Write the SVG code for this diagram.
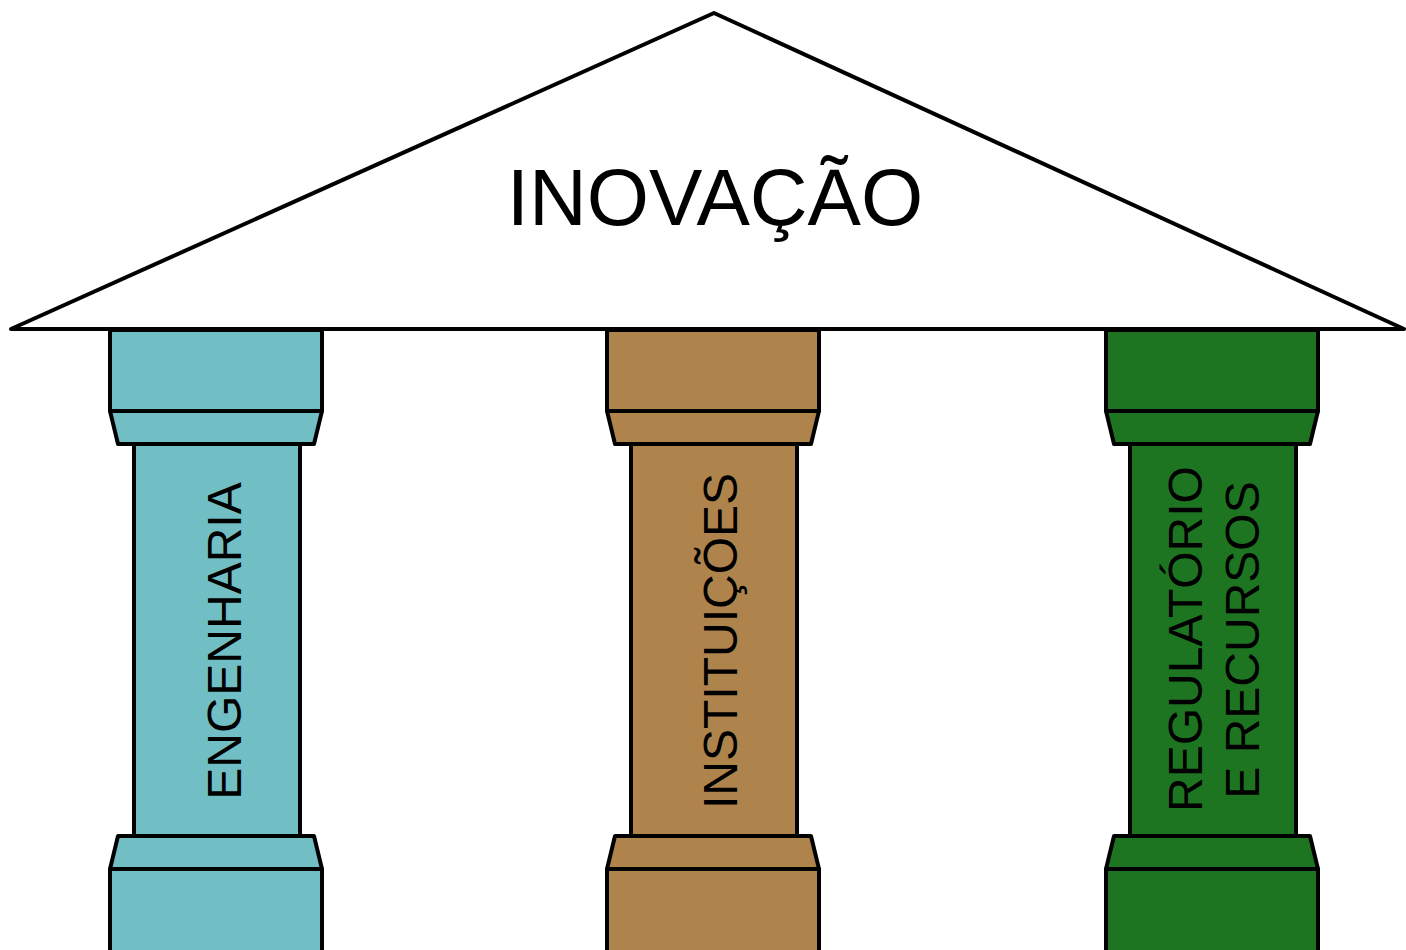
<svg xmlns="http://www.w3.org/2000/svg" width="1406" height="950" viewBox="0 0 1406 950">
<style>
.s{stroke:#000;stroke-width:4;stroke-linejoin:round}
.teal{fill:#71BFC4}
.brown{fill:#AF844C}
.green{fill:#1D7521}
.t{font-family:"Liberation Sans",Arial,sans-serif;fill:#000;text-anchor:middle}
.v{font-size:48px}
</style>
<defs>
<g id="pillar">
<rect x="0" y="330" width="212" height="81"/>
<polygon points="0,411 212,411 204,444 8,444"/>
<rect x="24" y="444" width="166" height="392"/>
<polygon points="8,836 204,836 212,869 0,869"/>
<rect x="0" y="869" width="212" height="95"/>
</g>
</defs>
<rect width="1406" height="950" fill="#fff"/>
<g id="pillar-engenharia">
<use href="#pillar" x="110" class="s teal"/>
<text class="t v" transform="translate(241,641) rotate(-90)">ENGENHARIA</text>
</g>
<g id="pillar-instituicoes">
<use href="#pillar" x="607" class="s brown"/>
<text class="t v" transform="translate(737,641) rotate(-90)">INSTITUIÇÕES</text>
</g>
<g id="pillar-regulatorio">
<use href="#pillar" x="1106" class="s green"/>
<text class="t v" transform="translate(1202,639) rotate(-90)">REGULATÓRIO</text>
<text class="t v" transform="translate(1259,640) rotate(-90)">E RECURSOS</text>
</g>
<g id="roof">
<polygon class="s" fill="#fff" points="11,329 714,13 1404,329"/>
<text class="t" x="715" y="225" font-size="80">INOVAÇÃO</text>
</g>
<g id="connectors"/>
</svg>
